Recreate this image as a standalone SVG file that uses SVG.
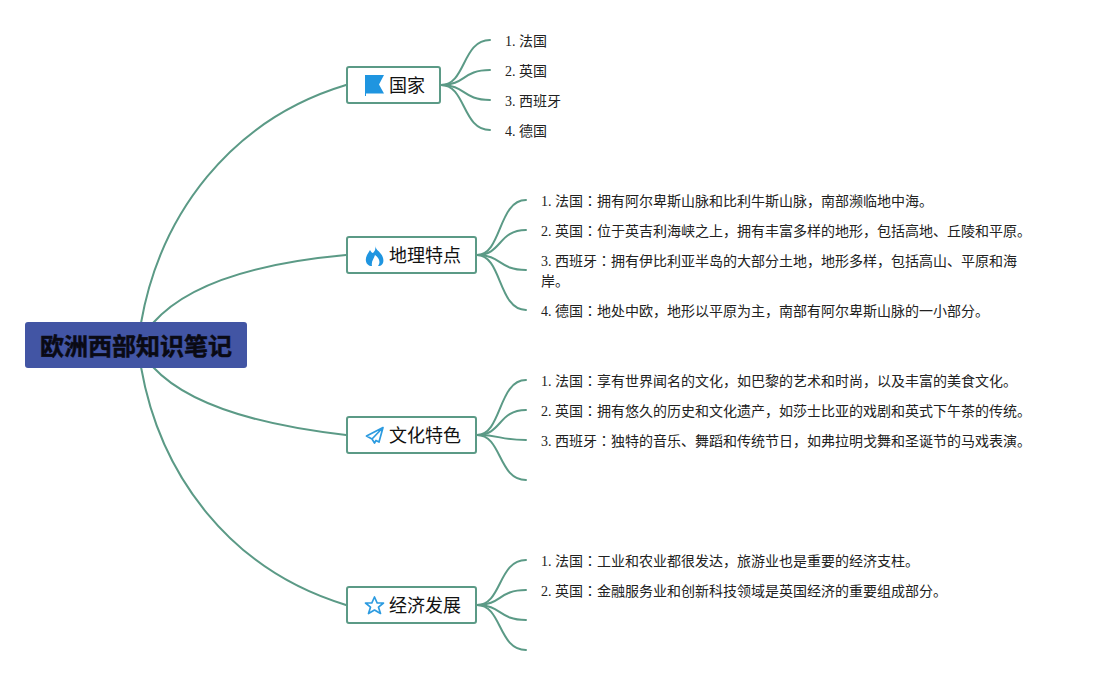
<svg xmlns="http://www.w3.org/2000/svg" width="1101" height="675" viewBox="0 0 1101 675">
<style>
.c{fill:none;stroke:#5b9a86;stroke-width:2;stroke-linecap:round}
.b{fill:#fff;stroke:#5b9a86;stroke-width:2}
.t{font-family:"Liberation Serif","Noto Sans CJK SC",serif;font-size:14px;fill:#222}
.k{font-family:"Noto Sans CJK JP",sans-serif}
.n{font-family:"Noto Sans CJK SC",sans-serif;font-size:18px;fill:#111}
.i{fill:#1f95e0}
.o{fill:none;stroke:#2c9be0;stroke-width:1.700;stroke-linejoin:round}
</style>
<rect width="1101" height="675" fill="#fff"/>
<g id="connectors">
<path class="c" d="M141 323C160 215 230 120 346 85"/>
<path class="c" d="M153 323C188 283 258 263 346 255"/>
<path class="c" d="M153 367C188 405 258 425 346 435"/>
<path class="c" d="M141 367C160 475 230 570 346 605"/>
<path class="c" d="M441 85C466 85 462 40 490 40"/>
<path class="c" d="M441 85C466 85 462 70 490 70"/>
<path class="c" d="M441 85C466 85 462 100 490 100"/>
<path class="c" d="M441 85C466 85 462 130 490 130"/>
<path class="c" d="M477 255C502 255 498 200 526 200"/>
<path class="c" d="M477 255C502 255 498 230 526 230"/>
<path class="c" d="M477 255C502 255 498 270 526 270"/>
<path class="c" d="M477 255C502 255 498 310 526 310"/>
<path class="c" d="M477 435C502 435 498 380 526 380"/>
<path class="c" d="M477 435C502 435 498 410 526 410"/>
<path class="c" d="M477 435C502 435 498 440 526 440"/>
<path class="c" d="M477 435C502 435 498 480 526 480"/>
<path class="c" d="M477 605C502 605 498 560 526 560"/>
<path class="c" d="M477 605C502 605 498 590 526 590"/>
<path class="c" d="M477 605C502 605 498 620 526 620"/>
<path class="c" d="M477 605C502 605 498 650 526 650"/>
</g>
<g id="root">
<rect x="25" y="322" width="222" height="46" rx="3" fill="#4255a4"/>
<text x="136" y="355" text-anchor="middle" font-family="'Noto Sans CJK SC',sans-serif" font-size="24" font-weight="700" fill="#0a0a14" stroke="#0a0a14" stroke-width="0.500">欧洲西部知识笔记</text>
</g>
<g id="node-country">
<rect class="b" x="347" y="67" width="93" height="36" rx="2"/>
<path class="i" d="M365 75H384L379 84.500L384 93.500H366V96H365Z"/>
<text class="n" x="389" y="92">国家</text>
</g>
<g id="node-geo">
<rect class="b" x="347" y="237" width="129" height="36" rx="2"/>
<path class="i" d="M375 245C376 250 378 250 381 254C385 259 384 266 378 266C381 262 379 258 375 255C374 259 371 261 372 266C367 266 364 261 367 255C368 253 369 252 370 250C371 252 372 253 373 253C375 251 376 249 375 245Z"/>
<text class="n" x="389" y="262">地理特点</text>
</g>
<g id="node-culture">
<rect class="b" x="347" y="417" width="129" height="36" rx="2"/>
<path class="o" d="M383 427.500L366.500 436L372 439L374.500 443L376 440.500L379 442ZM383 427.500L372 439"/>
<text class="n" x="389" y="442">文化特色</text>
</g>
<g id="node-economy">
<rect class="b" x="347" y="587" width="129" height="36" rx="2"/>
<path class="o" d="M374.500 597L377.200 603H383.500L378.500 607.200L380.500 613.500L374.500 610L368.500 613.500L370.500 607.200L365.500 603H371.800Z"/>
<text class="n" x="389" y="612">经济发展</text>
</g>
<g id="labels">
<text class="t" x="505" y="46">1. 法国</text>
<text class="t" x="505" y="76">2. 英国</text>
<text class="t" x="505" y="106">3. 西班牙</text>
<text class="t" x="505" y="136">4. 德国</text>
<text class="t" x="541" y="206">1. 法国<tspan class="k">：</tspan>拥有阿尔卑斯山脉和比利牛斯山脉，南部濒临地中海。</text>
<text class="t" x="541" y="236">2. 英国<tspan class="k">：</tspan>位于英吉利海峡之上，拥有丰富多样的地形，包括高地、丘陵和平原。</text>
<text class="t" x="541" y="266">3. 西班牙<tspan class="k">：</tspan>拥有伊比利亚半岛的大部分土地，地形多样，包括高山、平原和海</text>
<text class="t" x="541" y="286">岸。</text>
<text class="t" x="541" y="316">4. 德国<tspan class="k">：</tspan>地处中欧，地形以平原为主，南部有阿尔卑斯山脉的一小部分。</text>
<text class="t" x="541" y="386">1. 法国<tspan class="k">：</tspan>享有世界闻名的文化，如巴黎的艺术和时尚，以及丰富的美食文化。</text>
<text class="t" x="541" y="416">2. 英国<tspan class="k">：</tspan>拥有悠久的历史和文化遗产，如莎士比亚的戏剧和英式下午茶的传统。</text>
<text class="t" x="541" y="446">3. 西班牙<tspan class="k">：</tspan>独特的音乐、舞蹈和传统节日，如弗拉明戈舞和圣诞节的马戏表演。</text>
<text class="t" x="541" y="566">1. 法国<tspan class="k">：</tspan>工业和农业都很发达，旅游业也是重要的经济支柱。</text>
<text class="t" x="541" y="596">2. 英国<tspan class="k">：</tspan>金融服务业和创新科技领域是英国经济的重要组成部分。</text>
</g>
</svg>
